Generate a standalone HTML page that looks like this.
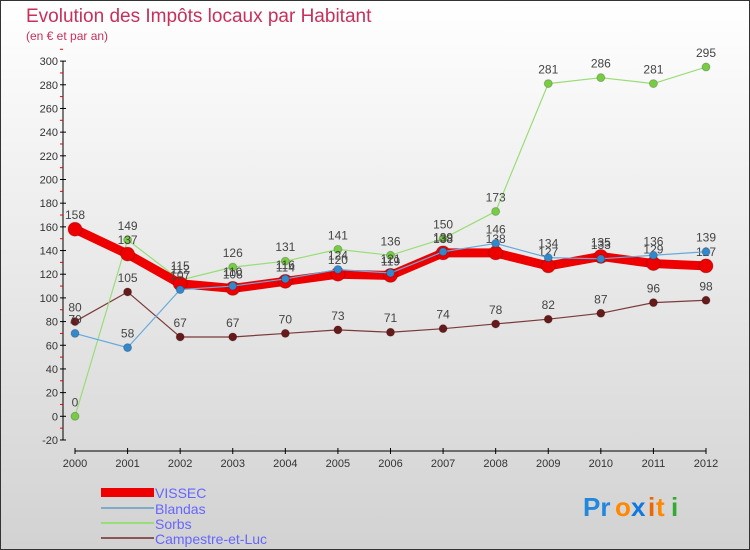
<!DOCTYPE html>
<html><head><meta charset="utf-8"><style>
body{margin:0;width:750px;height:550px;overflow:hidden;font-family:"Liberation Sans",sans-serif;}
#wrap{position:absolute;left:0;top:0;width:748px;height:548px;border:1px solid #333;background:linear-gradient(#ffffff,#d2d2d2);}
</style></head><body>
<div id="wrap"></div>
<svg id="c" width="750" height="550" style="position:absolute;left:0;top:0">
<text x="26" y="22" font-size="19" fill="#c8305a">Evolution des Impôts locaux par Habitant</text>
<text x="26" y="40" font-size="12" fill="#c8305a">(en € et par an)</text>
<g id="axes"></g><g id="series"></g>
<g>
<rect x="101" y="488" width="53" height="9" fill="#e00"/>
<text x="155" y="498" font-size="14" fill="#6666ff">VISSEC</text>
<rect x="101" y="507" width="53" height="2" fill="#80aac8"/>
<text x="155" y="514" font-size="14" fill="#6666ff">Blandas</text>
<rect x="101" y="522" width="53" height="2" fill="#99dd77"/>
<text x="155" y="529" font-size="14" fill="#6666ff">Sorbs</text>
<rect x="101" y="537" width="53" height="2" fill="#8a5555"/>
<text x="155" y="544" font-size="14" fill="#6666ff">Campestre-et-Luc</text>
</g>
<g font-size="26" font-weight="bold">
<text x="583" y="516" fill="#2288dd">Pr</text><text x="615" y="516" fill="#ff8800">o</text><text x="631" y="516" fill="#1177dd">x</text><text x="648" y="516" fill="#ee6600">i</text><text x="656" y="516" fill="#ff8800">t</text><text x="671" y="516" fill="#33aa33">i</text>
</g>
</svg>
<script>
const years=["2000","2001","2002","2003","2004","2005","2006","2007","2008","2009","2010","2011","2012"];
const yTicks=[-20,0,20,40,60,80,100,120,140,160,180,200,220,240,260,280,300];
const vissec=[158,137,112,108,114,120,119,138,138,127,135,129,127];
const blandas=[70,58,107,110,116,124,121,139,146,134,133,136,139];
const sorbs=[0,149,115,126,131,141,136,150,173,281,286,281,295];
const campestre=[80,105,67,67,70,73,71,74,78,82,87,96,98];
const NS="http://www.w3.org/2000/svg";
const X=i=>75+i*(706-75)/12;
const Y=v=>416.3-v*1.184;
function mk(tag,attrs,parent){const e=document.createElementNS(NS,tag);for(const k in attrs)e.setAttribute(k,attrs[k]);parent.appendChild(e);return e;}
const ax=document.getElementById('axes'),sg=document.getElementById('series');
let a=mk('line',{x1:63,y1:Y(300),x2:63,y2:Y(-20),stroke:'#000','stroke-width':1},ax);


yTicks.forEach(v=>{
 mk('line',{x1:60,x2:66,y1:Y(v),y2:Y(v),stroke:'#000'},ax);
 mk('line',{x1:60,x2:63,y1:Y(v+10),y2:Y(v+10),stroke:'#e00'},ax);
 const t=mk('text',{x:58,y:Y(v)+4,'font-size':11,fill:'#333','text-anchor':'end'},ax);t.textContent=v;
 
 
});
let xa=mk('line',{x1:75,x2:706,y1:451,y2:451,stroke:'#000'},ax);


years.forEach((y,i)=>{
 mk('line',{x1:X(i),x2:X(i),y1:448,y2:454,stroke:'#000'},ax);
 const t=mk('text',{x:X(i),y:467,'font-size':11,fill:'#333','text-anchor':'middle'},ax);t.textContent=y;
 
 
});
function series(data,name,color,w,r,dot){
 const g=mk('g',{},sg);
 
 
 mk('polyline',{points:data.map((v,i)=>X(i)+','+Y(v)).join(' '),fill:'none',stroke:color,'stroke-width':w,'stroke-linejoin':'round'},g);
 data.forEach((v,i)=>{
  const c=mk('circle',{cx:X(i),cy:Y(v),r:r,fill:dot,stroke:'#0003'},g);
  
  
  const t=mk('text',{x:X(i),y:Y(v)-10,'font-size':12,fill:'#444','text-anchor':'middle'},g);t.textContent=v;
  
  
 });
}
series(campestre,'campestre','#7a3a3a',1.2,4,'#661a1a');
series(sorbs,'sorbs','#99dd77',1.2,4,'#77cc44');
series(vissec,'vissec','#ee0000',9,7,'#ee0000');
series(blandas,'blandas','#66aadd',1.2,4,'#3388cc');
</script>
</body></html>
